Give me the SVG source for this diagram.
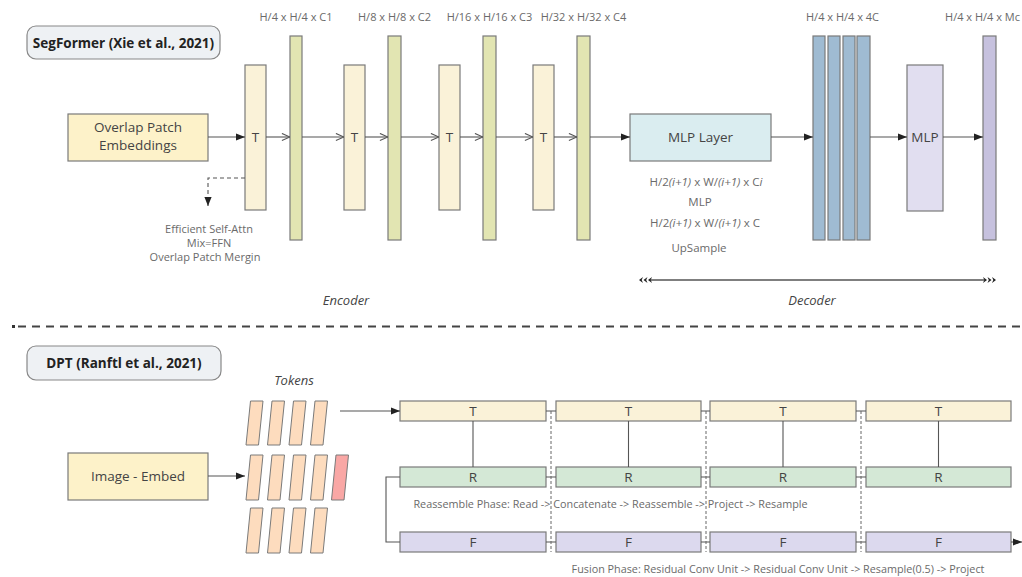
<svg xmlns="http://www.w3.org/2000/svg" width="1022" height="577" viewBox="0 0 1022 577">
<style>
.lbl{font-family:"Open Sans","Noto Sans",sans-serif;font-size:11px;fill:#6a6a6a;text-anchor:middle}
.sm{font-size:10.8px}
.box{stroke:#7a7a7a;stroke-width:1.2}
.btxt{font-family:"Open Sans","Noto Sans",sans-serif;font-size:13.5px;fill:#444;text-anchor:middle}
.ttl{font-family:"Open Sans","Noto Sans",sans-serif;font-size:13.5px;font-weight:bold;fill:#222;text-anchor:middle}
.ital{font-family:"Open Sans","Noto Sans",sans-serif;font-size:13px;font-style:italic;fill:#444;text-anchor:middle}
.ln{stroke:#555;stroke-width:1.1;fill:none}
.cream{fill:#faf2d8}
.olive{fill:#e2e5b2}
.blue{fill:#9fbbd2}
.tok{fill:#fddcbe;stroke:#7a7a7a;stroke-width:1}
.rowT{fill:#faf2d8}
.rowR{fill:#d4e8d6}
.rowF{fill:#dcd9ee}
.it{font-style:italic}
</style>
<defs>
<marker id="fa" viewBox="0 0 10 10" refX="10" refY="5" markerWidth="9" markerHeight="9" markerUnits="userSpaceOnUse" orient="auto"><path d="M0,1 L10,5 L0,9 z" fill="#222"/></marker>
<marker id="oa" viewBox="0 0 10 10" refX="10" refY="5" markerWidth="9" markerHeight="9" markerUnits="userSpaceOnUse" orient="auto"><path d="M1,1 L10,5 L1,9" fill="none" stroke="#555" stroke-width="1.2"/></marker>
<marker id="tri" viewBox="0 0 14 8" refX="1" refY="4" markerWidth="14" markerHeight="8" markerUnits="userSpaceOnUse" orient="auto-start-reverse"><path d="M0,1 L4,4 L0,7 L1.3,4 z M4.5,1 L8.5,4 L4.5,7 L5.8,4 z M9,1 L13,4 L9,7 L10.3,4 z" fill="#222"/></marker>
</defs>

<!-- SegFormer section -->
<g id="title-segformer"><rect x="27" y="26" width="193" height="33" rx="9" fill="#eef1f4" stroke="#888" stroke-width="1.2"/><text class="ttl" x="123.5" y="47.5">SegFormer (Xie et al., 2021)</text></g>

<g id="overlap-patch"><rect class="box" x="68" y="114" width="140" height="47" fill="#fdf2c9"/><text class="btxt" x="138" y="132">Overlap Patch</text><text class="btxt" x="138" y="150">Embeddings</text></g>

<g id="T1"><rect class="box cream" x="245" y="65" width="21" height="145"/><text class="btxt" x="255.5" y="142">T</text></g>
<g id="bar1"><rect class="box olive" x="290" y="36" width="12" height="204"/><text class="lbl" x="296" y="21">H/4 x H/4 x C1</text></g>
<g id="T2"><rect class="box cream" x="344" y="65" width="21" height="145"/><text class="btxt" x="354.5" y="142">T</text></g>
<g id="bar2"><rect class="box olive" x="388" y="36" width="13" height="204"/><text class="lbl" x="394.5" y="21">H/8 x H/8 x C2</text></g>
<g id="T3"><rect class="box cream" x="439" y="65" width="21" height="145"/><text class="btxt" x="449.5" y="142">T</text></g>
<g id="bar3"><rect class="box olive" x="483" y="36" width="13" height="204"/><text class="lbl" x="489.5" y="21">H/16 x H/16 x C3</text></g>
<g id="T4"><rect class="box cream" x="533" y="65" width="21" height="145"/><text class="btxt" x="543.5" y="142">T</text></g>
<g id="bar4"><rect class="box olive" x="577" y="36" width="13" height="204"/><text class="lbl" x="583.5" y="21">H/32 x H/32 x C4</text></g>

<g id="attn-note"><text class="lbl" x="209" y="233">Efficient Self-Attn</text><text class="lbl" x="209" y="247">Mix=FFN</text><text class="lbl" x="205" y="261">Overlap Patch Mergin</text></g>

<g id="mlp-layer"><rect class="box" x="630" y="114" width="141" height="47" fill="#daedf0"/><text class="btxt" x="700.5" y="142">MLP Layer</text></g>
<g id="mlp-notes">
<text class="lbl" x="706" y="186" style="font-size:11.5px">H/2<tspan class="it">(i+1)</tspan> x W/<tspan class="it">(i+1)</tspan> x C<tspan class="it">i</tspan></text>
<text class="lbl" x="700" y="206" style="font-size:11.5px">MLP</text>
<text class="lbl" x="705" y="227" style="font-size:11.5px">H/2<tspan class="it">(i+1)</tspan> x W/<tspan class="it">(i+1)</tspan> x C</text>
<text class="lbl" x="699" y="252" style="font-size:11.5px">UpSample</text>
</g>

<g id="concat-bars">
<rect class="box blue" x="813" y="36" width="12" height="204"/>
<rect class="box blue" x="828" y="36" width="12" height="204"/>
<rect class="box blue" x="843" y="36" width="12" height="204"/>
<rect class="box blue" x="857" y="36" width="13" height="204"/>
<text class="lbl" x="842.5" y="21">H/4 x H/4 x 4C</text>
</g>
<g id="mlp"><rect class="box" x="907" y="65" width="36" height="146" fill="#e1def0"/><text class="btxt" x="925" y="142">MLP</text></g>
<g id="out-bar"><rect class="box" x="983" y="36" width="13" height="204" fill="#c6c1de"/><text class="lbl" x="1020" y="21" style="text-anchor:end">H/4 x H/4 x Mc</text></g>

<g id="enc-dec-labels">
<text class="ital" x="346" y="305">Encoder</text>
<text class="ital" x="812" y="305">Decoder</text>
</g>

<!-- DPT section -->
<g id="title-dpt"><rect x="27" y="346" width="194" height="34" rx="9" fill="#eef1f4" stroke="#888" stroke-width="1.2"/><text class="ttl" x="124" y="368">DPT (Ranftl et al., 2021)</text></g>
<g id="image-embed"><rect class="box" x="68" y="453" width="140" height="47" fill="#fdf2c9"/><text class="btxt" x="138" y="481">Image - Embed</text></g>

<g id="tokens">
<text class="ital" x="294" y="385">Tokens</text>
<path class="tok" d="M250.5,401 h12.5 l-4.5,44 h-12.5 z"/>
<path class="tok" d="M272,401 h12.5 l-4.5,44 h-12.5 z"/>
<path class="tok" d="M293.5,401 h12.5 l-4.5,44 h-12.5 z"/>
<path class="tok" d="M315,401 h12.5 l-4.5,44 h-12.5 z"/>
<path class="tok" d="M250.5,455 h12.5 l-4.5,45 h-12.5 z"/>
<path class="tok" d="M272,455 h12.5 l-4.5,45 h-12.5 z"/>
<path class="tok" d="M293.5,455 h12.5 l-4.5,45 h-12.5 z"/>
<path class="tok" d="M315,455 h12.5 l-4.5,45 h-12.5 z"/>
<path class="tok" d="M336,455 h12.5 l-4.5,45 h-12.5 z" style="fill:#f9a7a5"/>
<path class="tok" d="M250.5,508 h12.5 l-4.5,45 h-12.5 z"/>
<path class="tok" d="M272,508 h12.5 l-4.5,45 h-12.5 z"/>
<path class="tok" d="M293.5,508 h12.5 l-4.5,45 h-12.5 z"/>
<path class="tok" d="M315,508 h12.5 l-4.5,45 h-12.5 z"/>
</g>

<g id="T-row">
<rect class="box rowT" x="400" y="401" width="146" height="20"/><text class="btxt" x="473" y="416">T</text>
<rect class="box rowT" x="556" y="401" width="145" height="20"/><text class="btxt" x="628.5" y="416">T</text>
<rect class="box rowT" x="710" y="401" width="146" height="20"/><text class="btxt" x="783" y="416">T</text>
<rect class="box rowT" x="866" y="401" width="145" height="20"/><text class="btxt" x="938.5" y="416">T</text>
</g>
<g id="R-row">
<rect class="box rowR" x="400" y="467" width="146" height="20"/><text class="btxt" x="473" y="482">R</text>
<rect class="box rowR" x="556" y="467" width="145" height="20"/><text class="btxt" x="628.5" y="482">R</text>
<rect class="box rowR" x="710" y="467" width="146" height="20"/><text class="btxt" x="783" y="482">R</text>
<rect class="box rowR" x="866" y="467" width="145" height="20"/><text class="btxt" x="938.5" y="482">R</text>
</g>
<g id="F-row">
<rect class="box rowF" x="400" y="532" width="146" height="20"/><text class="btxt" x="473" y="547">F</text>
<rect class="box rowF" x="556" y="532" width="145" height="20"/><text class="btxt" x="628.5" y="547">F</text>
<rect class="box rowF" x="710" y="532" width="146" height="20"/><text class="btxt" x="783" y="547">F</text>
<rect class="box rowF" x="866" y="532" width="145" height="20"/><text class="btxt" x="938.5" y="547">F</text>
</g>
<g id="phase-notes">
<text class="lbl sm" x="610.5" y="508">Reassemble Phase: Read -&gt; Concatenate -&gt; Reassemble -&gt; Project -&gt; Resample</text>
<text class="lbl sm" x="778" y="573">Fusion Phase: Residual Conv Unit -&gt; Residual Conv Unit -&gt; Resample(0.5) -&gt; Project</text>
</g>

<g id="connectors">
<!-- SegFormer -->
<line class="ln" x1="208" y1="137" x2="245" y2="137" marker-end="url(#fa)"/>
<line class="ln" x1="266" y1="137" x2="290" y2="137" marker-end="url(#oa)"/>
<line class="ln" x1="302" y1="137" x2="344" y2="137" marker-end="url(#oa)"/>
<line class="ln" x1="365" y1="137" x2="388" y2="137" marker-end="url(#oa)"/>
<line class="ln" x1="401" y1="137" x2="439" y2="137" marker-end="url(#oa)"/>
<line class="ln" x1="460" y1="137" x2="483" y2="137" marker-end="url(#oa)"/>
<line class="ln" x1="496" y1="137" x2="533" y2="137" marker-end="url(#oa)"/>
<line class="ln" x1="554" y1="137" x2="577" y2="137" marker-end="url(#oa)"/>
<line class="ln" x1="590" y1="137" x2="630" y2="137" marker-end="url(#fa)"/>
<line class="ln" x1="771" y1="137" x2="813" y2="137" marker-end="url(#fa)"/>
<line class="ln" x1="870" y1="137" x2="907" y2="137" marker-end="url(#fa)"/>
<line class="ln" x1="943" y1="137" x2="983" y2="137" marker-end="url(#fa)"/>
<path class="ln" d="M245,178 H208 V206" stroke-dasharray="4 3" marker-end="url(#fa)"/>
<line x1="651" y1="280" x2="984" y2="280" stroke="#555" stroke-width="1.6" marker-start="url(#tri)" marker-end="url(#tri)"/>
<!-- separator -->
<rect x="12" y="325" width="3" height="3" fill="#333"/>
<line x1="18" y1="326.5" x2="1022" y2="326.5" stroke="#444" stroke-width="2" stroke-dasharray="8 6"/>
<!-- DPT -->
<line class="ln" x1="208" y1="476" x2="245" y2="476" marker-end="url(#fa)"/>
<line class="ln" x1="340" y1="411" x2="400" y2="411" marker-end="url(#fa)"/>
<line class="ln" x1="473" y1="421" x2="473" y2="467"/>
<line class="ln" x1="628.5" y1="421" x2="628.5" y2="467"/>
<line class="ln" x1="783" y1="421" x2="783" y2="467"/>
<line class="ln" x1="938.5" y1="421" x2="938.5" y2="467"/>
<path class="ln" d="M546,411 H556 M701,411 H710 M856,411 H866 M546,477 H556 M701,477 H710 M856,477 H866 M546,542 H556 M701,542 H710 M856,542 H866"/>
<path d="M551,411 V552 M706,411 V552 M861,411 V552" stroke="#666" stroke-width="1" stroke-dasharray="3 2" fill="none"/>
<path class="ln" d="M400,477 H386 V542 H400"/>
<line class="ln" x1="1011" y1="542" x2="1022" y2="542" marker-end="url(#fa)"/>
</g>
</svg>
